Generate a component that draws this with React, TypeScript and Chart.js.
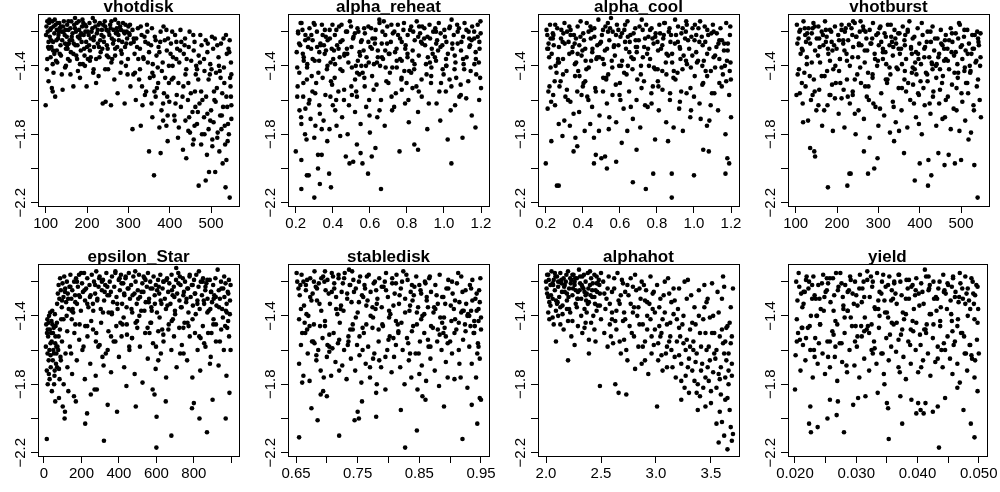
import React, { useEffect, useRef } from "react";
import { Chart, registerables } from "chart.js";
Chart.register(...registerables);

const FONT = '"Liberation Sans", Arial, Helvetica, sans-serif';

// shared y axis
const yTicks = [-2.2, -2.0, -1.8, -1.6, -1.4, -1.2];
const yTickLabels = ["\u22122.2", "", "\u22121.8", "", "\u22121.4", ""];
const yMin = -2.219;
const yMax = -1.097;

const titles = ["vhotdisk", "alpha_reheat", "alpha_cool", "vhotburst", "epsilon_Star", "stabledisk", "alphahot", "yield"];

const xMins = [81.5, 0.158, 0.158, 81.5, -32, 0.637, 1.927, 0.01886];
const xMaxs = [567.5, 1.243, 1.243, 567.5, 1041, 0.963, 3.755, 0.0513];

const xTicksAll = [
  [100, 200, 300, 400, 500],
  [0.2, 0.4, 0.6, 0.8, 1.0, 1.2],
  [0.2, 0.4, 0.6, 0.8, 1.0, 1.2],
  [100, 200, 300, 400, 500],
  [0, 200, 400, 600, 800, 1000],
  [0.65, 0.7, 0.75, 0.8, 0.85, 0.9, 0.95],
  [2.0, 2.5, 3.0, 3.5],
  [0.02, 0.025, 0.03, 0.035, 0.04, 0.045, 0.05],
];
const xLabelsAll = [
  ["100", "200", "300", "400", "500"],
  ["0.2", "0.4", "0.6", "0.8", "1.0", "1.2"],
  ["0.2", "0.4", "0.6", "0.8", "1.0", "1.2"],
  ["100", "200", "300", "400", "500"],
  ["0", "200", "400", "600", "800", ""],
  ["0.65", "", "0.75", "", "0.85", "", "0.95"],
  ["2.0", "2.5", "3.0", "3.5"],
  ["0.020", "", "0.030", "", "0.040", "", "0.050"],
];

const vhotdisk: [number, number][] = [
  [102,-1.17],[105,-1.2],[108,-1.15],[110,-1.23],[113,-1.18],[116,-1.14],[118,-1.26],[121,-1.21],[124,-1.16],[127,-1.19],[130,-1.24],[133,-1.15],[136,-1.28],[139,-1.2],[142,-1.17],[146,-1.22],[149,-1.3],[152,-1.16],[155,-1.19],[158,-1.25],[162,-1.14],[165,-1.21],[168,-1.27],[171,-1.18],[175,-1.15],[178,-1.23],[181,-1.19],[185,-1.31],[188,-1.17],[192,-1.22],[195,-1.16],[198,-1.26],[202,-1.2],[206,-1.15],[209,-1.24],[213,-1.18],[217,-1.29],[220,-1.17],[224,-1.21],[228,-1.16],[232,-1.25],[236,-1.19],[240,-1.23],[244,-1.17],[248,-1.28],[252,-1.2],[256,-1.16],[260,-1.24],[264,-1.19],[268,-1.3],[272,-1.18],[276,-1.22],[280,-1.17],[285,-1.26],[289,-1.2],[293,-1.16],[297,-1.24],
  [101,-1.22],[104,-1.14],[107,-1.26],[111,-1.19],[114,-1.29],[119,-1.17],[122,-1.13],[126,-1.25],[129,-1.15],[132,-1.2],[137,-1.17],[140,-1.25],[144,-1.14],[148,-1.19],[151,-1.23],[156,-1.27],[160,-1.18],[164,-1.25],[169,-1.16],[173,-1.2],[177,-1.28],[180,-1.14],[184,-1.22],[187,-1.26],[191,-1.15],[196,-1.2],[200,-1.29],[204,-1.22],[211,-1.2],[216,-1.25],[219,-1.14],[226,-1.27],[231,-1.15],[235,-1.22],[241,-1.26],[247,-1.19],[254,-1.22],[259,-1.14],[263,-1.27],[270,-1.21],[277,-1.25],[282,-1.19],[287,-1.15],[292,-1.29],[296,-1.2],[300,-1.17],
  [100,-1.63],[103,-1.42],[107,-1.49],[112,-1.35],[115,-1.53],[117,-1.55],[123,-1.58],[128,-1.38],[134,-1.33],[141,-1.54],[147,-1.41],[154,-1.36],[160,-1.45],[167,-1.52],[174,-1.34],[183,-1.47],[190,-1.39],[199,-1.52],[207,-1.37],[215,-1.44],[222,-1.5],[230,-1.35],[238,-1.62],[245,-1.61],[251,-1.42],[258,-1.63],[266,-1.48],[274,-1.56],[283,-1.38],[291,-1.62],[298,-1.45],
  [302,-1.21],[306,-1.27],[310,-1.19],[315,-1.33],[319,-1.24],[323,-1.18],[328,-1.3],[332,-1.22],[337,-1.36],[341,-1.26],[346,-1.2],[350,-1.32],[355,-1.28],[359,-1.39],[364,-1.23],[368,-1.34],[373,-1.29],[378,-1.2],[383,-1.38],[388,-1.25],[393,-1.31],[398,-1.4],[403,-1.27],[408,-1.35],[413,-1.22],[418,-1.3],[423,-1.38],[428,-1.26],[434,-1.33],[440,-1.42],[446,-1.29],[452,-1.37],[458,-1.31],[464,-1.4],[470,-1.34],[477,-1.28],[484,-1.43],[491,-1.32],[498,-1.39],[505,-1.3],[512,-1.44],[518,-1.35],[524,-1.27],[531,-1.41],[538,-1.33],[545,-1.25],[548,-1.38],
  [304,-1.16],[313,-1.24],[321,-1.29],[330,-1.17],[339,-1.23],[348,-1.27],[357,-1.18],[366,-1.25],[375,-1.32],[385,-1.17],[396,-1.24],[406,-1.2],[416,-1.26],[426,-1.19],[437,-1.24],[448,-1.2],[460,-1.26],[474,-1.22],[487,-1.25],[502,-1.23],[515,-1.28],[530,-1.24],[542,-1.3],
  [305,-1.52],[312,-1.45],[318,-1.6],[326,-1.48],[334,-1.63],[343,-1.55],[352,-1.47],[358,-1.7],[366,-1.58],[372,-1.5],[380,-1.66],[386,-1.56],[392,-1.75],[399,-1.61],[405,-1.48],[411,-1.69],[417,-1.57],[422,-1.76],[427,-1.64],[433,-1.52],[438,-1.72],[444,-1.6],[449,-1.79],[455,-1.67],[461,-1.55],[466,-1.74],[472,-1.62],[478,-1.8],[483,-1.7],[488,-1.58],[494,-1.77],[500,-1.66],[506,-1.73],[511,-1.61],[516,-1.79],[522,-1.69],[527,-1.56],[533,-1.75],[539,-1.64],[543,-1.8],[547,-1.52],[549,-1.71],
  [310,-1.77],[350,-1.9],[362,-2.04],[378,-1.91],[395,-1.84],[432,-1.89],[440,-1.94],[458,-1.83],[470,-2.1],[476,-1.86],[487,-2.07],[490,-1.92],[495,-2.02],[503,-1.87],[510,-2.02],[520,-1.9],[528,-1.97],[535,-2.11],[540,-1.84],[545,-2.17],[537,-1.95],[515,-1.82],
];
const vhotdiskMore: [number, number][] = [
  [118,-1.31],[243,-1.14],[167,-1.33],[295,-1.27],[131,-1.22],[209,-1.35],[276,-1.15],[152,-1.28],[189,-1.13],[233,-1.32],[106,-1.29],[261,-1.36],[143,-1.2],[198,-1.17],[284,-1.33],[125,-1.37],[217,-1.23],[171,-1.12],[250,-1.3],[137,-1.34],[303,-1.22],[182,-1.24],[226,-1.19],[113,-1.25],[268,-1.13],[158,-1.37],[205,-1.28],[291,-1.21],[147,-1.27],[239,-1.16],[121,-1.33],[193,-1.3],[257,-1.18],[176,-1.36],[313,-1.26],[109,-1.13],[229,-1.29],[163,-1.23],[282,-1.31],[134,-1.18],[214,-1.12],[248,-1.34],[186,-1.21],[299,-1.36],[155,-1.14],[273,-1.2],[117,-1.39],[222,-1.36],[265,-1.25],[195,-1.4],
  [328,-1.42],[345,-1.16],[361,-1.46],[377,-1.26],[392,-1.19],[409,-1.47],[425,-1.31],[441,-1.36],[457,-1.22],[469,-1.48],[483,-1.36],[497,-1.45],[509,-1.24],[523,-1.47],[536,-1.22],[549,-1.45],[336,-1.35],[371,-1.41],[402,-1.33],[436,-1.28],[463,-1.45],[492,-1.27],[519,-1.4],[544,-1.32],
  [356,-1.62],[369,-1.53],[384,-1.72],[398,-1.5],[414,-1.62],[431,-1.58],[447,-1.7],[462,-1.64],[476,-1.55],[491,-1.68],[503,-1.83],[514,-1.53],[529,-1.64],[541,-1.74],[548,-1.58],[420,-1.82],[456,-1.86],[484,-1.8],[508,-1.6],[534,-1.86],[375,-1.76],[395,-1.69],[340,-1.57],[330,-1.75],[460,-1.75],[525,-1.77],
];
const vhotdiskMid: [number, number][] = [
  [104,-1.36],[127,-1.31],[149,-1.4],[172,-1.28],[194,-1.34],[216,-1.42],[237,-1.3],[259,-1.38],[281,-1.44],[108,-1.3],[139,-1.45],[161,-1.32],[183,-1.39],[207,-1.31],[228,-1.46],[252,-1.35],[273,-1.29],[294,-1.4],[119,-1.44],[153,-1.3],[178,-1.43],[202,-1.36],[244,-1.42],[268,-1.34],
  [316,-1.44],[333,-1.52],[347,-1.38],[363,-1.55],[381,-1.43],[394,-1.58],[407,-1.4],[421,-1.5],[438,-1.45],[451,-1.56],[466,-1.42],[479,-1.6],[494,-1.48],[507,-1.55],[521,-1.43],[537,-1.58],[546,-1.47],[324,-1.36],[358,-1.44],[389,-1.47],[416,-1.36],[445,-1.5],[473,-1.38],[501,-1.42],[532,-1.5],[549,-1.63],[412,-1.72],[468,-1.67],[498,-1.72],[526,-1.69],[445,-1.78],[384,-1.62],
];

const alphaReheat: [number, number][] = [
  [0.212,-1.2],[0.224,-1.28],[0.231,-1.15],[0.243,-1.35],[0.252,-1.22],[0.261,-1.41],[0.274,-1.18],[0.283,-1.3],[0.291,-1.25],[0.302,-1.37],[0.314,-1.2],[0.322,-1.44],[0.333,-1.27],[0.341,-1.16],[0.356,-1.33],[0.362,-1.23],[0.371,-1.4],[0.383,-1.19],[0.394,-1.3],[0.402,-1.36],[0.411,-1.22],[0.423,-1.28],[0.434,-1.17],[0.441,-1.42],[0.452,-1.25],[0.463,-1.33],[0.471,-1.2],[0.484,-1.38],[0.492,-1.14],[0.501,-1.29],[0.512,-1.23],[0.524,-1.4],[0.533,-1.18],[0.544,-1.32],[0.552,-1.26],[0.561,-1.44],[0.573,-1.21],[0.582,-1.35],[0.592,-1.17],[0.603,-1.29],[0.614,-1.24],[0.622,-1.39],[0.631,-1.19],[0.643,-1.31],[0.652,-1.15],[0.664,-1.27],[0.671,-1.36],[0.683,-1.22],[0.694,-1.17],[0.702,-1.33],[0.713,-1.26],[0.721,-1.41],[0.732,-1.2],[0.744,-1.3],[0.751,-1.16],[0.763,-1.24],[0.772,-1.37],[0.781,-1.19],[0.793,-1.28],[0.804,-1.22],[0.812,-1.43],[0.823,-1.17],[0.831,-1.31],[0.842,-1.25],[0.853,-1.14],[0.864,-1.34],[0.871,-1.21],[0.882,-1.27],[0.894,-1.18],[0.903,-1.39],[0.911,-1.23],[0.922,-1.16],[0.934,-1.3],[0.942,-1.2],[0.951,-1.35],[0.963,-1.25],[0.972,-1.15],[0.981,-1.29],[0.993,-1.42],[1.002,-1.19],[1.013,-1.26],[1.021,-1.33],[1.032,-1.17],[1.041,-1.13],[1.053,-1.22],[1.062,-1.38],[1.074,-1.27],[1.081,-1.18],[1.092,-1.31],[1.103,-1.23],[1.111,-1.15],[1.122,-1.35],[1.133,-1.2],[1.141,-1.28],[1.152,-1.17],[1.163,-1.24],[1.171,-1.32],[1.182,-1.16],[1.191,-1.26],[1.198,-1.21],
  [0.205,-1.32],[0.236,-1.19],[0.268,-1.24],[0.297,-1.15],[0.326,-1.37],[0.352,-1.28],[0.384,-1.24],[0.412,-1.39],[0.447,-1.16],[0.476,-1.3],[0.503,-1.41],[0.538,-1.2],[0.566,-1.31],[0.594,-1.38],[0.627,-1.27],[0.655,-1.4],[0.683,-1.31],[0.716,-1.16],[0.745,-1.37],[0.772,-1.26],[0.803,-1.33],[0.834,-1.2],[0.866,-1.17],[0.893,-1.24],[0.924,-1.38],[0.953,-1.18],[0.982,-1.21],[1.013,-1.4],[1.045,-1.3],[1.074,-1.2],[1.103,-1.36],[1.136,-1.24],[1.164,-1.39],[1.192,-1.3],
  [0.21,-1.52],[0.22,-1.66],[0.23,-1.74],[0.24,-1.58],[0.25,-1.8],[0.26,-1.48],[0.27,-1.62],[0.28,-1.71],[0.29,-1.55],[0.3,-1.82],[0.31,-1.5],[0.33,-1.68],[0.34,-1.77],[0.36,-1.57],[0.37,-1.84],[0.39,-1.49],[0.4,-1.63],[0.42,-1.75],[0.43,-1.55],[0.45,-1.7],[0.46,-1.6],[0.48,-1.8],[0.5,-1.52],[0.52,-1.67],[0.53,-1.58],[0.55,-1.74],[0.57,-1.47],[0.58,-1.64],[0.6,-1.79],[0.62,-1.54],[0.64,-1.7],[0.66,-1.6],[0.68,-1.75],[0.7,-1.5],[0.72,-1.66],[0.74,-1.56],[0.77,-1.48],[0.79,-1.62],[0.81,-1.73],[0.83,-1.53],[0.86,-1.67],[0.88,-1.58],[0.91,-1.77],[0.93,-1.5],[0.96,-1.62],[0.98,-1.72],[1.01,-1.55],[1.03,-1.48],[1.06,-1.63],[1.09,-1.51],[1.12,-1.59],[1.15,-1.69],[1.17,-1.76],[1.19,-1.6],[1.2,-1.53],[0.41,-1.47],
  [0.23,-2.12],[0.26,-2.04],[0.27,-2.04],[0.3,-2.17],[0.32,-2.0],[0.33,-2.09],[0.38,-2.03],[0.39,-2.11],[0.59,-2.03],[0.66,-2.12],[1.04,-1.97],[0.2,-1.9],[0.23,-1.95],[0.32,-1.92],[0.34,-1.92],[0.47,-1.93],[0.49,-1.97],[0.51,-1.96],[0.53,-1.86],[0.55,-1.91],[0.56,-1.97],[0.61,-1.93],[0.63,-1.88],[0.76,-1.9],[0.84,-1.86],[0.86,-1.89],[1.02,-1.83],[1.1,-1.82],
];
const alphaReheatMore: [number, number][] = [
  [0.213,-1.21],[0.547,-1.34],[0.882,-1.17],[0.334,-1.28],[1.106,-1.39],[0.675,-1.14],[0.251,-1.25],[0.968,-1.31],[0.419,-1.19],[0.763,-1.36],[1.182,-1.23],[0.302,-1.16],[0.611,-1.3],[0.839,-1.42],[0.477,-1.2],[1.045,-1.27],[0.226,-1.15],[0.706,-1.33],[0.925,-1.24],[0.388,-1.38],[0.569,-1.18],[1.137,-1.29],[0.284,-1.22],[0.803,-1.35],[0.651,-1.13],[0.441,-1.26],[1.012,-1.4],[0.357,-1.19],[0.736,-1.32],[0.519,-1.21],[0.898,-1.28],[0.243,-1.37],[1.071,-1.16],[0.628,-1.24],[0.462,-1.34],[0.957,-1.2],[0.315,-1.29],[0.784,-1.15],[1.163,-1.2],[0.592,-1.26],[0.406,-1.31],[0.861,-1.23],[0.208,-1.41],[0.693,-1.27],[1.029,-1.18],[0.535,-1.37],[0.372,-1.25],[0.817,-1.19],[0.939,-1.33],[0.266,-1.29],[0.724,-1.21],[1.094,-1.26],[0.498,-1.17],[0.643,-1.35],[0.345,-1.22],[0.991,-1.28],[0.579,-1.4],[1.197,-1.14],[0.431,-1.3],[0.752,-1.22],[0.291,-1.36],[0.876,-1.26],[0.607,-1.18],[1.058,-1.34],[0.218,-1.27],[0.509,-1.24],[0.829,-1.37],[0.398,-1.16],[0.958,-1.27],[0.685,-1.41],[1.121,-1.19],[0.327,-1.32],[0.556,-1.25],[0.791,-1.3],[0.452,-1.43],[1.005,-1.23],[0.238,-1.33],[0.668,-1.2],[0.913,-1.35],[0.363,-1.31],[1.149,-1.25],
  [0.526,-1.55],[0.771,-1.47],[0.274,-1.6],[0.851,-1.52],[0.598,-1.69],[1.083,-1.58],[0.413,-1.66],[0.717,-1.58],[0.984,-1.5],[0.306,-1.75],[0.543,-1.45],[1.174,-1.45],[0.636,-1.51],[0.229,-1.7],[0.808,-1.6],[0.487,-1.63],[0.931,-1.46],[0.382,-1.77],[1.036,-1.66],[0.258,-1.83],[0.35,-1.72],[0.44,-1.81],
];
const alphaReheatMid: [number, number][] = [
  [0.219,-1.44],[0.345,-1.47],[0.478,-1.33],[0.612,-1.46],[0.745,-1.41],[0.879,-1.48],[1.011,-1.36],[1.144,-1.43],[0.262,-1.39],[0.396,-1.51],[0.531,-1.44],[0.665,-1.35],[0.798,-1.5],[0.932,-1.41],[1.066,-1.47],[1.188,-1.38],[0.305,-1.56],[0.437,-1.35],[0.572,-1.52],[0.708,-1.44],[0.841,-1.39],[0.975,-1.55],[1.109,-1.42],[0.241,-1.5],[0.368,-1.42],[0.503,-1.57],[0.638,-1.38],[0.772,-1.54],[0.906,-1.45],[1.04,-1.52],[1.172,-1.36],[0.286,-1.46],[0.418,-1.6],[0.554,-1.4],[0.689,-1.49],[0.823,-1.44],[0.957,-1.37],[1.091,-1.57],[0.208,-1.58],[0.327,-1.63],[0.461,-1.54],[0.596,-1.6],[0.731,-1.64],[0.864,-1.55],[0.998,-1.45],[1.131,-1.49],[0.252,-1.65],[0.387,-1.58],[0.52,-1.48],[0.652,-1.66],[0.786,-1.43],[0.918,-1.62],[1.057,-1.42],[1.195,-1.47],
];

const alphaCool: [number, number][] = [
  [0.204,-1.19],[0.215,-1.27],[0.223,-1.16],[0.232,-1.33],[0.241,-1.22],[0.253,-1.4],[0.262,-1.18],[0.271,-1.29],[0.282,-1.24],[0.293,-1.36],[0.301,-1.15],[0.312,-1.43],[0.323,-1.26],[0.334,-1.19],[0.343,-1.32],[0.352,-1.22],[0.364,-1.38],[0.372,-1.17],[0.381,-1.28],[0.393,-1.34],[0.402,-1.21],[0.413,-1.3],[0.421,-1.15],[0.432,-1.41],[0.443,-1.24],[0.451,-1.32],[0.462,-1.18],[0.473,-1.36],[0.484,-1.13],[0.492,-1.27],[0.503,-1.22],[0.514,-1.39],[0.522,-1.17],[0.531,-1.3],[0.543,-1.25],[0.552,-1.12],[0.561,-1.2],[0.573,-1.34],[0.584,-1.16],[0.592,-1.28],[0.603,-1.23],[0.612,-1.37],[0.624,-1.19],[0.633,-1.3],[0.641,-1.14],[0.653,-1.26],[0.662,-1.35],[0.674,-1.21],[0.683,-1.18],[0.691,-1.32],[0.702,-1.25],[0.714,-1.4],[0.723,-1.19],[0.731,-1.29],[0.742,-1.16],[0.754,-1.23],[0.763,-1.36],[0.771,-1.18],[0.782,-1.27],[0.793,-1.21],[0.804,-1.42],[0.813,-1.16],[0.822,-1.3],[0.834,-1.24],[0.843,-1.15],[0.852,-1.33],[0.864,-1.2],[0.873,-1.26],[0.882,-1.38],[0.891,-1.43],[0.903,-1.22],[0.914,-1.17],[0.923,-1.29],[0.932,-1.21],[0.944,-1.34],[0.952,-1.24],[0.961,-1.16],[0.974,-1.3],[0.983,-1.41],[0.992,-1.18],[1.003,-1.25],[1.012,-1.32],[1.024,-1.18],[1.033,-1.14],[1.042,-1.23],[1.053,-1.37],[1.061,-1.26],[1.072,-1.19],[1.083,-1.3],[1.091,-1.43],[1.102,-1.16],[1.114,-1.34],[1.123,-1.21],[1.132,-1.27],[1.143,-1.18],[1.151,-1.25],[1.162,-1.31],[1.174,-1.15],[1.183,-1.27],[1.194,-1.22],
  [0.208,-1.3],[0.238,-1.24],[0.266,-1.36],[0.295,-1.21],[0.327,-1.33],[0.356,-1.27],[0.387,-1.23],[0.415,-1.37],[0.446,-1.19],[0.478,-1.28],[0.507,-1.36],[0.536,-1.2],[0.567,-1.29],[0.596,-1.4],[0.628,-1.26],[0.657,-1.22],[0.686,-1.29],[0.718,-1.13],[0.747,-1.33],[0.776,-1.24],[0.806,-1.31],[0.837,-1.22],[0.868,-1.18],[0.897,-1.27],[0.927,-1.36],[0.956,-1.2],[0.986,-1.23],[1.016,-1.38],[1.047,-1.28],[1.077,-1.22],[1.106,-1.35],[1.137,-1.25],[1.167,-1.4],[1.196,-1.17],
  [0.21,-1.65],[0.22,-1.52],[0.24,-1.57],[0.25,-1.63],[0.27,-1.74],[0.28,-1.49],[0.29,-1.81],[0.3,-1.72],[0.32,-1.6],[0.33,-1.75],[0.35,-1.68],[0.36,-1.82],[0.37,-1.55],[0.38,-1.67],[0.4,-1.52],[0.41,-1.78],[0.43,-1.6],[0.44,-1.74],[0.46,-1.82],[0.47,-1.55],[0.49,-1.69],[0.51,-1.47],[0.53,-1.62],[0.54,-1.77],[0.56,-1.57],[0.58,-1.73],[0.6,-1.5],[0.62,-1.65],[0.64,-1.78],[0.65,-1.55],[0.67,-1.71],[0.69,-1.6],[0.71,-1.76],[0.73,-1.49],[0.75,-1.64],[0.77,-1.56],[0.79,-1.83],[0.81,-1.66],[0.83,-1.54],[0.85,-1.73],[0.87,-1.6],[0.89,-1.76],[0.9,-1.48],[0.92,-1.65],[0.94,-1.78],[0.96,-1.56],[0.98,-1.7],[1.0,-1.58],[1.03,-1.62],[1.05,-1.5],[1.07,-1.75],[1.09,-1.63],[1.11,-1.56],[1.13,-1.66],[1.15,-1.52],[1.17,-1.8],[1.19,-1.57],[1.2,-1.7],
  [0.2,-1.97],[0.26,-2.1],[0.27,-2.1],[0.35,-1.9],[0.46,-1.97],[0.47,-1.92],[0.5,-1.94],[0.52,-1.93],[0.53,-2.0],[0.58,-1.96],[0.67,-2.08],[0.69,-1.89],[0.74,-2.12],[0.78,-2.03],[0.88,-2.03],[0.88,-2.17],[1.0,-2.04],[1.05,-1.89],[1.08,-1.9],[1.17,-2.03],[1.18,-1.94],[1.19,-1.97],[0.23,-1.84],[0.37,-1.87],[0.61,-1.85],[0.86,-1.84],
];
const alphaCoolMore: [number, number][] = [
  [0.213,-1.3],[0.547,-1.18],[0.882,-1.33],[0.334,-1.22],[1.106,-1.2],[0.675,-1.36],[0.251,-1.16],[0.968,-1.25],[0.419,-1.42],[0.763,-1.19],[1.182,-1.31],[0.302,-1.27],[0.611,-1.21],[0.839,-1.15],[0.477,-1.35],[1.045,-1.4],[0.226,-1.24],[0.706,-1.17],[0.925,-1.3],[0.388,-1.14],[0.569,-1.28],[1.137,-1.36],[0.284,-1.19],[0.803,-1.26],[0.651,-1.32],[0.441,-1.17],[1.012,-1.22],[0.357,-1.39],[0.736,-1.24],[0.519,-1.31],[0.898,-1.13],[0.243,-1.28],[1.071,-1.33],[0.628,-1.16],[0.462,-1.23],[0.957,-1.37],[0.315,-1.2],[0.784,-1.41],[1.163,-1.27],[0.592,-1.19],[0.406,-1.25],[0.861,-1.34],[0.208,-1.22],[0.693,-1.29],[1.029,-1.26],[0.535,-1.15],[0.372,-1.33],[0.817,-1.21],[0.939,-1.18],[0.266,-1.38],[0.724,-1.35],[1.094,-1.21],[0.498,-1.26],[0.643,-1.23],[0.345,-1.29],[0.991,-1.34],[0.579,-1.22],[1.197,-1.38],[0.431,-1.2],[0.752,-1.3],[0.291,-1.26],[0.876,-1.22],[0.607,-1.4],[1.058,-1.17],[0.218,-1.35],[0.509,-1.19],[0.829,-1.28],[0.398,-1.31],[0.958,-1.14],[0.685,-1.25],[1.121,-1.29],[0.327,-1.17],[0.556,-1.37],[0.791,-1.23],[0.452,-1.3],[1.005,-1.16],[0.238,-1.21],[0.668,-1.42],[0.913,-1.26],[0.363,-1.24],[1.149,-1.41],
  [0.526,-1.48],[0.771,-1.62],[0.274,-1.52],[0.851,-1.45],[0.598,-1.57],[1.083,-1.72],[0.413,-1.49],[0.717,-1.53],[0.984,-1.66],[0.306,-1.58],[0.543,-1.7],[1.174,-1.49],[0.636,-1.45],[0.229,-1.61],[0.808,-1.52],[0.487,-1.78],[0.931,-1.55],[0.382,-1.46],[1.036,-1.71],[0.45,-1.64],
];
const alphaCoolMid: [number, number][] = [
  [0.226,-1.41],[0.358,-1.46],[0.489,-1.35],[0.623,-1.44],[0.757,-1.4],[0.889,-1.47],[1.022,-1.37],[1.156,-1.45],[0.271,-1.38],[0.404,-1.5],[0.537,-1.45],[0.671,-1.36],[0.805,-1.49],[0.938,-1.42],[1.071,-1.46],[1.193,-1.43],[0.314,-1.54],[0.445,-1.37],[0.578,-1.51],[0.713,-1.45],[0.848,-1.38],[0.981,-1.53],[1.114,-1.41],[0.248,-1.49],[0.375,-1.43],[0.509,-1.55],[0.643,-1.4],[0.778,-1.52],[0.911,-1.44],[1.045,-1.51],[1.178,-1.37],[0.293,-1.45],[0.424,-1.58],[0.559,-1.41],[0.694,-1.48],[0.829,-1.43],[0.962,-1.39],[1.097,-1.56],[0.214,-1.55],[0.333,-1.61],[0.467,-1.53],[0.603,-1.6],[0.736,-1.63],[0.871,-1.56],[1.004,-1.46],[1.137,-1.5],[0.258,-1.44],[0.393,-1.57],[0.526,-1.47],[0.659,-1.64],[0.791,-1.42],[0.924,-1.61],[1.063,-1.43],[1.199,-1.48],
];

const vhotburst: [number, number][] = [
  [103,-1.16],[107,-1.24],[111,-1.19],[115,-1.3],[119,-1.14],[123,-1.22],[127,-1.35],[131,-1.18],[135,-1.27],[139,-1.21],[143,-1.15],[147,-1.31],[151,-1.24],[155,-1.17],[159,-1.38],[163,-1.2],[167,-1.28],[171,-1.14],[175,-1.23],[179,-1.33],[183,-1.19],[187,-1.26],[191,-1.42],[195,-1.17],[199,-1.3],[203,-1.22],[207,-1.36],[211,-1.16],[215,-1.27],[219,-1.2],[223,-1.33],[227,-1.25],[231,-1.4],[235,-1.18],[239,-1.29],[243,-1.15],[247,-1.23],[251,-1.35],[255,-1.2],[259,-1.28],[263,-1.17],[267,-1.31],[271,-1.24],[275,-1.44],[279,-1.19],[283,-1.27],[287,-1.15],[291,-1.33],[295,-1.22],[299,-1.37],[303,-1.18],[307,-1.26],[311,-1.3],[315,-1.21],[319,-1.39],[323,-1.16],[327,-1.28],[331,-1.23],[335,-1.34],[339,-1.19],[343,-1.27],[347,-1.42],[351,-1.21],[355,-1.3],[359,-1.17],[363,-1.25],[367,-1.36],[371,-1.2],[375,-1.14],[379,-1.29],[383,-1.41],[387,-1.23],[391,-1.32],[395,-1.18],[399,-1.27],[403,-1.39],[407,-1.22],[411,-1.3],[415,-1.44],[419,-1.2],[423,-1.35],[427,-1.26],[431,-1.17],[435,-1.31],[439,-1.4],[443,-1.24],[447,-1.33],[451,-1.19],[455,-1.28],[459,-1.37],[463,-1.22],[467,-1.3],[471,-1.42],[475,-1.18],[479,-1.26],[483,-1.34],[487,-1.21],[491,-1.39],[495,-1.15],[499,-1.29],[503,-1.36],[507,-1.23],[511,-1.31],[515,-1.19],[519,-1.27],[523,-1.43],[527,-1.22],[531,-1.3],[535,-1.38],[539,-1.2],[543,-1.28],[547,-1.35],
  [109,-1.2],[125,-1.26],[141,-1.18],[157,-1.24],[173,-1.19],[189,-1.31],[205,-1.25],[221,-1.18],[237,-1.22],[253,-1.27],[269,-1.2],[285,-1.24],[301,-1.28],[317,-1.32],[333,-1.26],[349,-1.3],[365,-1.22],[381,-1.33],[397,-1.36],[413,-1.29],[429,-1.38],[445,-1.35],[461,-1.25],[477,-1.32],[493,-1.24],[509,-1.41],[525,-1.33],[541,-1.24],
  [105,-1.45],[110,-1.56],[117,-1.62],[124,-1.52],[130,-1.72],[137,-1.6],[144,-1.48],[150,-1.66],[157,-1.54],[164,-1.75],[170,-1.46],[177,-1.63],[184,-1.57],[190,-1.78],[197,-1.5],[204,-1.68],[211,-1.59],[218,-1.76],[224,-1.48],[231,-1.62],[238,-1.55],[245,-1.8],[252,-1.66],[258,-1.5],[265,-1.71],[272,-1.58],[279,-1.82],[286,-1.47],[293,-1.64],[300,-1.75],[307,-1.56],[314,-1.69],[321,-1.5],[328,-1.79],[335,-1.61],[342,-1.73],[349,-1.53],[356,-1.66],[363,-1.48],[370,-1.76],[377,-1.6],[384,-1.51],[391,-1.7],[398,-1.57],[405,-1.8],[412,-1.63],[419,-1.49],[426,-1.68],[433,-1.55],[440,-1.75],[447,-1.62],[454,-1.5],[461,-1.7],[468,-1.58],[475,-1.77],[482,-1.65],[489,-1.53],[496,-1.78],[503,-1.61],[510,-1.72],[517,-1.56],[524,-1.79],[531,-1.66],[538,-1.52],[545,-1.6],[548,-1.7],
  [178,-2.11],[225,-2.1],[230,-2.03],[233,-2.03],[275,-2.03],[290,-2.0],[388,-2.07],[420,-2.1],[428,-2.04],[540,-2.17],[147,-1.93],[135,-1.88],[145,-1.9],[400,-1.97],[421,-1.95],[460,-1.98],[485,-1.97],[500,-1.95],[532,-1.98],[445,-1.91],[470,-1.92],[265,-1.9],[298,-1.94],[338,-1.84],[362,-1.91],[518,-1.83],
];
const vhotburstMore: [number, number][] = [
  [112,-1.33],[348,-1.21],[497,-1.16],[196,-1.4],[452,-1.27],[264,-1.19],[131,-1.24],[411,-1.35],[239,-1.14],[379,-1.3],[533,-1.22],[183,-1.37],[305,-1.17],[471,-1.25],[218,-1.31],[426,-1.2],[122,-1.18],[357,-1.39],[502,-1.28],[246,-1.23],[330,-1.16],[516,-1.33],[173,-1.26],[388,-1.42],[299,-1.21],[211,-1.19],[468,-1.37],[158,-1.29],[341,-1.24],[237,-1.35],[405,-1.15],[128,-1.21],[487,-1.32],[281,-1.27],[205,-1.43],[437,-1.24],[146,-1.17],[364,-1.28],[542,-1.26],[267,-1.38],[186,-1.2],[392,-1.45],[104,-1.27],[311,-1.32],[459,-1.3],[229,-1.16],[327,-1.41],[417,-1.26],[154,-1.34],[508,-1.19],[273,-1.31],[371,-1.19],[193,-1.28],[449,-1.42],[318,-1.23],[139,-1.38],[528,-1.3],[257,-1.14],[396,-1.33],[478,-1.21],[166,-1.22],[292,-1.36],[440,-1.47],[215,-1.25],[352,-1.33],[521,-1.4],[117,-1.31],[253,-1.28],[383,-1.24],[493,-1.44],[178,-1.3],[336,-1.29],[430,-1.39],[547,-1.21],
  [208,-1.5],[367,-1.55],[463,-1.6],[141,-1.57],[288,-1.62],[409,-1.53],[512,-1.5],[243,-1.68],[322,-1.48],[455,-1.71],[169,-1.66],[386,-1.62],[530,-1.63],[276,-1.52],[432,-1.58],[118,-1.73],[350,-1.78],[489,-1.66],[226,-1.58],[398,-1.74],
];
const vhotburstMid: [number, number][] = [
  [108,-1.42],[163,-1.46],[224,-1.37],[286,-1.45],[344,-1.41],[402,-1.49],[463,-1.36],[522,-1.44],[127,-1.39],[188,-1.51],[249,-1.45],[311,-1.36],[372,-1.5],[431,-1.42],[492,-1.47],[546,-1.4],[146,-1.55],[207,-1.36],[268,-1.52],[329,-1.45],[389,-1.38],[449,-1.54],[508,-1.43],[115,-1.5],[176,-1.43],[238,-1.57],[297,-1.4],[357,-1.53],[418,-1.45],[478,-1.51],[537,-1.37],[134,-1.46],[195,-1.59],[256,-1.41],[318,-1.48],[381,-1.44],[441,-1.39],[501,-1.56],[102,-1.57],[155,-1.63],[216,-1.54],[277,-1.6],[337,-1.64],[396,-1.56],[456,-1.46],[515,-1.5],[121,-1.44],[182,-1.57],[243,-1.48],[304,-1.65],[364,-1.43],[424,-1.62],[484,-1.44],[541,-1.48],
];

const epsilonStar: [number, number][] = [
  [12,-1.45],[18,-1.42],[22,-1.52],[27,-1.4],[31,-1.48],[35,-1.56],[40,-1.43],[44,-1.37],[48,-1.5],[53,-1.62],[58,-1.39],[62,-1.46],[66,-1.58],[70,-1.33],[74,-1.27],[78,-1.22],[82,-1.3],[86,-1.18],[90,-1.25],[95,-1.35],[99,-1.21],[104,-1.29],[108,-1.17],[113,-1.24],[118,-1.32],[122,-1.2],[127,-1.27],[132,-1.36],[136,-1.23],[141,-1.16],[146,-1.3],[151,-1.25],[156,-1.38],[161,-1.2],[166,-1.28],[171,-1.18],[176,-1.33],[181,-1.23],[187,-1.16],[192,-1.29],[197,-1.37],[203,-1.21],[208,-1.26],[214,-1.15],[219,-1.31],[225,-1.24],[231,-1.18],[237,-1.35],[243,-1.22],[249,-1.28],[255,-1.16],[261,-1.33],[267,-1.2],[273,-1.27],[279,-1.14],[285,-1.3],[291,-1.23],[297,-1.17],[303,-1.36],[309,-1.25],[315,-1.19],[321,-1.31],[327,-1.22],[333,-1.15],[339,-1.28],[345,-1.38],[351,-1.2],[357,-1.26],[363,-1.17],[369,-1.32],[375,-1.23],[381,-1.14],[387,-1.29],[393,-1.36],[399,-1.19],[405,-1.25],[411,-1.16],[417,-1.33],[423,-1.21],[429,-1.28],[435,-1.18],[441,-1.35],[447,-1.24],[453,-1.15],[459,-1.3],[465,-1.22],[471,-1.38],[477,-1.17],[483,-1.27],[489,-1.2],[495,-1.33],[501,-1.25],[507,-1.16],[513,-1.29],[519,-1.37],[525,-1.21],[531,-1.26],[537,-1.18],[543,-1.32],[549,-1.23],[555,-1.15],[561,-1.3],[567,-1.2],[573,-1.35],[579,-1.24],[585,-1.17],[591,-1.28],[597,-1.22],[603,-1.38],[609,-1.19],[615,-1.27],[621,-1.16],[627,-1.33],[633,-1.24],[639,-1.2],[645,-1.3],[651,-1.36],[657,-1.18],[663,-1.26],[669,-1.21],[675,-1.33],[681,-1.16],[687,-1.28],[693,-1.23],[699,-1.37],[705,-1.19],[711,-1.27],[717,-1.15],[723,-1.31],[729,-1.22],[735,-1.35],[741,-1.18],[747,-1.26],[753,-1.2],[759,-1.32],[765,-1.24],[771,-1.38],[777,-1.17],[783,-1.29],[789,-1.22],[795,-1.34],[801,-1.19],[807,-1.27],[813,-1.16],[819,-1.31],[825,-1.23],[831,-1.36],[837,-1.2],[843,-1.28],[849,-1.18],[855,-1.33],[861,-1.25],[867,-1.21],[873,-1.3],[879,-1.37],[885,-1.19],[891,-1.26],[897,-1.32],[903,-1.22],[909,-1.28],[915,-1.18],[921,-1.34],[927,-1.13],[933,-1.25],[939,-1.3],[945,-1.2],[951,-1.36],[957,-1.24],[963,-1.29],[969,-1.21],[975,-1.33],[981,-1.26],[987,-1.19],[993,-1.31],
  [15,-1.72],[20,-1.8],[25,-1.66],[30,-1.77],[36,-1.7],[42,-1.84],[50,-1.6],[56,-1.75],[64,-1.68],[72,-1.58],[80,-1.71],[88,-1.64],[96,-1.55],[105,-1.8],[115,-1.62],[125,-1.7],[138,-1.58],[150,-1.74],[162,-1.5],[175,-1.66],[190,-1.45],[205,-1.6],[218,-1.77],[232,-1.52],[247,-1.68],[262,-1.48],[276,-1.75],[290,-1.58],[305,-1.44],[318,-1.69],[330,-1.62],[344,-1.49],[358,-1.73],[372,-1.55],[386,-1.46],[400,-1.64],[414,-1.52],[428,-1.7],[442,-1.45],[456,-1.6],[470,-1.53],[484,-1.74],[498,-1.47],[512,-1.58],[526,-1.79],[540,-1.5],[554,-1.65],[568,-1.44],[582,-1.56],[596,-1.71],[610,-1.49],[624,-1.62],[638,-1.55],[652,-1.76],[666,-1.45],[680,-1.6],[694,-1.52],[708,-1.7],[722,-1.47],[736,-1.57],[750,-1.44],[764,-1.66],[778,-1.52],[792,-1.76],[806,-1.5],[820,-1.6],[834,-1.72],[848,-1.46],[862,-1.58],[876,-1.5],[890,-1.64],[904,-1.45],[918,-1.55],[932,-1.69],[946,-1.48],[960,-1.6],[974,-1.75],[988,-1.52],[996,-1.6],
  [15,-2.12],[110,-2.0],[220,-2.03],[320,-2.13],[600,-2.17],[601,-1.99],[680,-2.1],[830,-2.0],[870,-2.08],[970,-2.0],[230,-1.97],[390,-1.96],[100,-1.93],[112,-1.96],[490,-1.93],[60,-1.9],[80,-1.88],[160,-1.87],[170,-1.9],[340,-1.92],[800,-1.91],[790,-1.94],[900,-1.89],[990,-1.85],[130,-1.84],[250,-1.86],[270,-1.83],[282,-1.83],[580,-1.83],[590,-1.86],[440,-1.81],[650,-1.9],
];
const epsilonStarMore: [number, number][] = [
  [112,-1.26],[487,-1.14],[862,-1.23],[231,-1.33],[654,-1.19],[348,-1.28],[778,-1.16],[153,-1.36],[917,-1.29],[569,-1.24],[295,-1.18],[731,-1.35],[414,-1.21],[984,-1.27],[198,-1.15],[623,-1.31],[847,-1.2],[362,-1.38],[521,-1.26],[706,-1.12],[129,-1.3],[947,-1.24],[273,-1.22],[592,-1.33],[805,-1.27],[436,-1.17],[683,-1.25],[176,-1.2],[888,-1.36],[324,-1.26],[542,-1.19],[761,-1.3],[391,-1.33],[962,-1.17],[245,-1.29],[613,-1.23],[827,-1.14],[467,-1.36],[141,-1.23],[718,-1.21],[906,-1.3],[309,-1.2],[575,-1.37],[794,-1.22],[428,-1.27],[659,-1.34],[216,-1.25],[996,-1.22],[503,-1.3],[872,-1.19],[263,-1.37],[744,-1.28],[381,-1.15],[604,-1.25],[167,-1.32],[935,-1.35],[451,-1.24],[819,-1.33],[338,-1.23],[696,-1.29],[532,-1.17],[976,-1.38],[187,-1.28],[637,-1.2],[853,-1.31],[404,-1.18],[559,-1.32],[725,-1.17],[284,-1.31],[893,-1.26],[473,-1.28],[769,-1.24],[96,-1.31],[121,-1.4],[148,-1.42],
  [16,-1.5],[24,-1.44],[33,-1.38],[41,-1.55],[52,-1.47],[61,-1.52],[69,-1.44],[76,-1.6],[85,-1.48],[92,-1.42],[29,-1.6],[47,-1.66],[57,-1.72],[66,-1.62],[83,-1.77],[38,-1.5],[19,-1.62],[10,-1.58],
  [220,-1.46],[358,-1.52],[497,-1.43],[631,-1.48],[772,-1.46],[905,-1.42],[277,-1.55],[419,-1.45],[563,-1.5],[688,-1.42],[836,-1.53],[967,-1.46],[145,-1.62],[312,-1.64],[455,-1.58],[610,-1.66],[745,-1.62],[886,-1.68],
];
const epsilonStarMid: [number, number][] = [
  [104,-1.42],[231,-1.46],[362,-1.39],[489,-1.44],[617,-1.41],[744,-1.47],[872,-1.38],[983,-1.43],[147,-1.37],[279,-1.5],[408,-1.44],[536,-1.37],[664,-1.48],[793,-1.42],[918,-1.45],[992,-1.39],[188,-1.54],[315,-1.38],[443,-1.51],[572,-1.44],[700,-1.39],[829,-1.52],[955,-1.41],[124,-1.49],[252,-1.43],[381,-1.55],[509,-1.4],[637,-1.51],[766,-1.44],[894,-1.5],[971,-1.37],[167,-1.45],[297,-1.57],[425,-1.41],[553,-1.47],[682,-1.43],[810,-1.39],[939,-1.55],[211,-1.58],[340,-1.6],[470,-1.53],[598,-1.58],[727,-1.62],[855,-1.56],[978,-1.47],[60,-1.56],[45,-1.45],[78,-1.52],[90,-1.66],[20,-1.48],[35,-1.63],[26,-1.74],[54,-1.8],[70,-1.7],
];

const stabledisk: [number, number][] = [
  [0.652,-1.2],[0.656,-1.28],[0.659,-1.16],[0.663,-1.34],[0.666,-1.22],[0.67,-1.4],[0.673,-1.18],[0.677,-1.27],[0.68,-1.14],[0.684,-1.31],[0.687,-1.21],[0.691,-1.37],[0.694,-1.17],[0.698,-1.25],[0.701,-1.19],[0.705,-1.33],[0.708,-1.15],[0.712,-1.24],[0.715,-1.29],[0.719,-1.18],[0.722,-1.36],[0.726,-1.21],[0.729,-1.15],[0.733,-1.27],[0.736,-1.13],[0.74,-1.32],[0.743,-1.19],[0.747,-1.24],[0.75,-1.38],[0.754,-1.17],[0.757,-1.28],[0.761,-1.22],[0.764,-1.34],[0.768,-1.16],[0.771,-1.26],[0.775,-1.41],[0.778,-1.2],[0.782,-1.3],[0.785,-1.18],[0.789,-1.35],[0.792,-1.23],[0.796,-1.15],[0.799,-1.29],[0.803,-1.39],[0.806,-1.21],[0.81,-1.27],[0.813,-1.16],[0.817,-1.33],[0.82,-1.24],[0.824,-1.14],[0.827,-1.3],[0.831,-1.19],[0.834,-1.37],[0.838,-1.22],[0.841,-1.28],[0.845,-1.17],[0.848,-1.35],[0.852,-1.25],[0.855,-1.4],[0.859,-1.2],[0.862,-1.31],[0.866,-1.18],[0.869,-1.26],[0.873,-1.38],[0.876,-1.22],[0.88,-1.33],[0.883,-1.16],[0.887,-1.29],[0.89,-1.41],[0.894,-1.24],[0.897,-1.19],[0.901,-1.34],[0.904,-1.27],[0.908,-1.42],[0.911,-1.21],[0.915,-1.32],[0.918,-1.17],[0.922,-1.37],[0.925,-1.25],[0.929,-1.39],[0.932,-1.22],[0.936,-1.31],[0.939,-1.43],[0.943,-1.27],[0.946,-1.36],[0.949,-1.18],
  [0.654,-1.24],[0.668,-1.19],[0.682,-1.23],[0.696,-1.2],[0.71,-1.17],[0.724,-1.26],[0.738,-1.22],[0.752,-1.2],[0.766,-1.31],[0.78,-1.25],[0.794,-1.2],[0.808,-1.34],[0.822,-1.2],[0.836,-1.26],[0.85,-1.22],[0.864,-1.35],[0.878,-1.28],[0.892,-1.33],[0.906,-1.36],[0.92,-1.26],[0.934,-1.37],[0.948,-1.32],
  [0.655,-1.68],[0.658,-1.57],[0.662,-1.75],[0.665,-1.5],[0.669,-1.62],[0.672,-1.78],[0.676,-1.55],[0.679,-1.45],[0.683,-1.66],[0.686,-1.6],[0.69,-1.72],[0.693,-1.53],[0.697,-1.46],[0.7,-1.64],[0.704,-1.58],[0.707,-1.75],[0.711,-1.5],[0.714,-1.67],[0.718,-1.56],[0.721,-1.44],[0.725,-1.69],[0.728,-1.6],[0.732,-1.77],[0.735,-1.52],[0.739,-1.65],[0.742,-1.48],[0.746,-1.72],[0.749,-1.57],[0.753,-1.63],[0.756,-1.79],[0.76,-1.5],[0.763,-1.68],[0.767,-1.58],[0.77,-1.76],[0.774,-1.47],[0.777,-1.62],[0.781,-1.8],[0.784,-1.55],[0.788,-1.7],[0.791,-1.46],[0.795,-1.83],[0.798,-1.6],[0.802,-1.52],[0.805,-1.73],[0.809,-1.64],[0.812,-1.57],[0.816,-1.49],[0.819,-1.7],[0.823,-1.6],[0.826,-1.8],[0.83,-1.53],[0.833,-1.66],[0.837,-1.76],[0.84,-1.46],[0.844,-1.62],[0.847,-1.83],[0.851,-1.55],[0.854,-1.69],[0.858,-1.5],[0.861,-1.78],[0.865,-1.58],[0.868,-1.65],[0.872,-1.47],[0.875,-1.72],[0.879,-1.55],[0.882,-1.81],[0.886,-1.6],[0.889,-1.5],[0.893,-1.67],[0.896,-1.76],[0.9,-1.55],[0.903,-1.62],[0.907,-1.77],[0.91,-1.48],[0.914,-1.6],[0.917,-1.76],[0.921,-1.54],[0.924,-1.45],[0.928,-1.82],[0.931,-1.58],[0.935,-1.68],[0.938,-1.5],[0.942,-1.76],[0.945,-1.56],[0.948,-1.65],[0.95,-1.48],
  [0.655,-2.11],[0.72,-2.1],[0.675,-1.94],[0.685,-2.01],[0.745,-2.01],[0.752,-2.0],[0.75,-1.96],[0.78,-1.99],[0.82,-1.95],[0.827,-2.17],[0.846,-2.07],[0.92,-2.12],[0.944,-2.03],[0.7,-1.87],[0.69,-1.86],[0.694,-1.84],[0.757,-1.9],[0.855,-1.87],[0.86,-1.89],[0.89,-1.93],[0.935,-1.92],[0.948,-1.88],[0.95,-1.89],[0.66,-1.79],[0.78,-1.85],
];
const stablediskMore: [number, number][] = [
  [0.662,-1.2],[0.781,-1.33],[0.913,-1.15],[0.703,-1.27],[0.846,-1.38],[0.728,-1.18],[0.934,-1.24],[0.675,-1.31],[0.812,-1.21],[0.889,-1.29],[0.741,-1.14],[0.658,-1.36],[0.867,-1.17],[0.796,-1.25],[0.717,-1.39],[0.941,-1.3],[0.684,-1.24],[0.829,-1.16],[0.759,-1.29],[0.903,-1.2],[0.691,-1.18],[0.853,-1.27],[0.774,-1.35],[0.926,-1.33],[0.737,-1.22],[0.651,-1.15],[0.884,-1.41],[0.806,-1.18],[0.708,-1.26],[0.947,-1.25],[0.673,-1.29],[0.839,-1.31],[0.765,-1.17],[0.918,-1.38],[0.723,-1.34],[0.86,-1.21],[0.789,-1.23],[0.697,-1.14],[0.874,-1.35],[0.752,-1.32],[0.936,-1.19],[0.666,-1.25],[0.818,-1.28],[0.744,-1.26],[0.897,-1.24],[0.712,-1.21],[0.842,-1.23],[0.679,-1.2],[0.931,-1.4],[0.801,-1.37],[0.733,-1.3],[0.862,-1.29],[0.688,-1.33],[0.908,-1.31],[0.776,-1.21],[0.657,-1.22],[0.835,-1.34],[0.719,-1.16],[0.943,-1.37],[0.762,-1.24],
  [0.668,-1.48],[0.735,-1.55],[0.815,-1.45],[0.893,-1.52],[0.704,-1.61],[0.785,-1.66],[0.868,-1.58],[0.94,-1.46],[0.68,-1.56],[0.758,-1.47],[0.835,-1.62],[0.915,-1.68],[0.72,-1.72],[0.8,-1.54],[0.88,-1.48],[0.946,-1.58],[0.695,-1.76],[0.77,-1.7],[0.85,-1.74],[0.925,-1.49],
];
const stablediskMid: [number, number][] = [
  [0.655,-1.42],[0.689,-1.46],[0.727,-1.37],[0.764,-1.45],[0.801,-1.41],[0.838,-1.49],[0.876,-1.36],[0.914,-1.44],[0.667,-1.39],[0.704,-1.51],[0.742,-1.45],[0.779,-1.36],[0.816,-1.5],[0.853,-1.42],[0.891,-1.47],[0.928,-1.4],[0.946,-1.43],[0.678,-1.55],[0.715,-1.36],[0.753,-1.52],[0.79,-1.45],[0.827,-1.38],[0.864,-1.54],[0.902,-1.43],[0.939,-1.5],[0.66,-1.5],[0.697,-1.43],[0.734,-1.57],[0.771,-1.4],[0.808,-1.53],[0.846,-1.45],[0.883,-1.51],[0.92,-1.37],[0.672,-1.46],[0.709,-1.59],[0.747,-1.41],[0.784,-1.48],[0.821,-1.44],[0.858,-1.39],[0.896,-1.56],[0.933,-1.46],[0.683,-1.63],[0.72,-1.54],[0.758,-1.6],[0.795,-1.64],[0.832,-1.56],[0.869,-1.46],[0.907,-1.5],[0.944,-1.62],[0.664,-1.44],[0.701,-1.57],[0.738,-1.48],[0.775,-1.65],[0.812,-1.43],[0.849,-1.62],[0.887,-1.44],[0.95,-1.41],
];

const alphahot: [number, number][] = [
  [2.0,-1.2],[2.01,-1.27],[2.02,-1.16],[2.03,-1.32],[2.04,-1.22],[2.05,-1.14],[2.06,-1.3],[2.07,-1.19],[2.08,-1.25],[2.09,-1.37],[2.1,-1.17],[2.11,-1.23],[2.12,-1.29],[2.13,-1.15],[2.14,-1.21],[2.15,-1.34],[2.16,-1.18],[2.17,-1.26],[2.18,-1.2],[2.19,-1.31],[2.2,-1.14],[2.21,-1.24],[2.22,-1.38],[2.23,-1.19],[2.24,-1.28],[2.25,-1.16],[2.26,-1.22],[2.27,-1.33],[2.28,-1.18],[2.29,-1.26],[2.3,-1.13],[2.31,-1.21],[2.32,-1.3],[2.33,-1.17],[2.34,-1.24],[2.35,-1.36],[2.36,-1.2],[2.37,-1.27],[2.38,-1.15],[2.39,-1.32],[2.4,-1.22],[2.41,-1.18],[2.42,-1.29],[2.43,-1.4],[2.44,-1.16],[2.45,-1.25],[2.46,-1.21],[2.47,-1.34],[2.48,-1.19],[2.49,-1.27],[2.5,-1.15],
  [2.005,-1.24],[2.025,-1.19],[2.045,-1.28],[2.065,-1.22],[2.085,-1.17],[2.105,-1.32],[2.125,-1.2],[2.145,-1.26],[2.165,-1.23],[2.185,-1.16],[2.205,-1.29],[2.225,-1.21],[2.245,-1.24],[2.265,-1.18],[2.285,-1.3],[2.305,-1.25],[2.325,-1.22],[2.345,-1.16],[2.365,-1.31],[2.385,-1.24],[2.405,-1.28],[2.425,-1.21],[2.445,-1.33],[2.465,-1.26],[2.485,-1.22],
  [2.03,-1.42],[2.07,-1.45],[2.11,-1.4],[2.16,-1.48],[2.2,-1.43],[2.23,-1.52],[2.29,-1.46],[2.33,-1.5],[2.36,-1.44],[2.39,-1.54],[2.44,-1.48],[2.2,-1.66],[2.39,-1.62],[2.49,-1.81],[2.63,-1.8],[2.66,-1.85],[2.73,-1.86],[2.09,-1.55],[2.26,-1.57],[2.45,-1.55],
  [2.52,-1.2],[2.55,-1.3],[2.57,-1.17],[2.6,-1.38],[2.62,-1.24],[2.65,-1.15],[2.67,-1.33],[2.7,-1.21],[2.72,-1.42],[2.75,-1.28],[2.77,-1.18],[2.8,-1.35],[2.82,-1.25],[2.85,-1.45],[2.87,-1.2],[2.9,-1.31],[2.92,-1.4],[2.95,-1.17],[2.97,-1.27],[2.99,-1.48],[2.53,-1.5],[2.58,-1.45],[2.61,-1.56],[2.64,-1.48],[2.68,-1.62],[2.71,-1.54],[2.74,-1.66],[2.78,-1.5],[2.81,-1.71],[2.84,-1.58],[2.87,-1.68],[2.9,-1.55],[2.93,-1.74],[2.96,-1.62],[2.98,-1.57],[2.56,-1.24],[2.69,-1.19],[2.79,-1.23],[2.89,-1.22],[2.94,-1.33],
  [3.01,-1.22],[3.03,-1.35],[3.05,-1.5],[3.07,-1.28],[3.09,-1.62],[3.11,-1.18],[3.13,-1.44],[3.15,-1.7],[3.17,-1.31],[3.19,-1.55],[3.21,-1.24],[3.23,-1.78],[3.25,-1.4],[3.27,-1.6],[3.29,-1.19],[3.31,-1.48],[3.33,-1.72],[3.35,-1.35],[3.37,-1.85],[3.39,-1.25],[3.41,-1.58],[3.43,-1.42],[3.45,-1.76],[3.47,-1.3],[3.49,-1.66],[3.51,-1.21],[3.53,-1.5],[3.55,-1.82],[3.57,-1.38],[3.59,-1.7],[3.61,-1.17],[3.63,-1.55],[3.65,-1.88],[3.67,-1.44],[3.69,-1.75],[3.7,-1.24],
  [3.02,-1.56],[3.06,-1.72],[3.1,-1.45],[3.14,-1.6],[3.18,-1.76],[3.22,-1.52],[3.26,-1.82],[3.3,-1.65],[3.34,-1.55],[3.38,-1.8],[3.42,-1.68],[3.46,-1.6],[3.5,-1.84],[3.54,-1.65],[3.58,-1.77],[3.62,-1.62],[3.66,-1.8],[3.68,-1.56],[3.04,-1.3],[3.12,-1.27],[3.2,-1.36],[3.28,-1.3],[3.36,-1.45],[3.44,-1.35],[3.52,-1.4],[3.6,-1.3],[3.64,-1.47],
  [3.57,-2.14],[3.65,-2.18],[3.62,-2.1],[3.68,-2.05],[3.7,-2.09],[3.69,-2.13],[3.55,-2.03],[3.6,-2.02],[3.01,-1.93],[3.23,-1.89],[3.38,-1.95],[3.45,-1.93],[3.5,-1.91],[3.58,-1.96],[3.63,-1.89],[3.67,-1.95],[3.4,-1.87],[3.3,-1.85],
];
const alphahotMore: [number, number][] = [
  [2.02,-1.29],[2.14,-1.19],[2.27,-1.25],[2.38,-1.33],[2.08,-1.15],[2.21,-1.36],[2.33,-1.23],[2.46,-1.17],[2.04,-1.34],[2.17,-1.22],[2.29,-1.3],[2.42,-1.25],[2.11,-1.2],[2.24,-1.16],[2.36,-1.28],[2.49,-1.34],[2.06,-1.21],[2.19,-1.27],[2.31,-1.17],[2.44,-1.29],[2.13,-1.35],[2.26,-1.2],[2.4,-1.14],[2.53,-1.27],[2.01,-1.16],[2.09,-1.31],[2.22,-1.18],[2.35,-1.26],[2.47,-1.21],[2.58,-1.33],[2.62,-1.18],[2.68,-1.28],[2.74,-1.22],[2.81,-1.16],[2.86,-1.3],[2.91,-1.25],[2.97,-1.36],[2.64,-1.37],[2.7,-1.43],[2.77,-1.33],[2.83,-1.4],[2.88,-1.45],[2.95,-1.42],[2.6,-1.26],[2.66,-1.31],[2.72,-1.26],[2.79,-1.38],[2.85,-1.24],[2.92,-1.32],[2.98,-1.26],
  [3.03,-1.46],[3.08,-1.38],[3.12,-1.55],[3.16,-1.24],[3.21,-1.63],[3.24,-1.45],[3.28,-1.54],[3.32,-1.28],[3.36,-1.67],[3.4,-1.5],[3.44,-1.22],[3.48,-1.58],[3.52,-1.73],[3.56,-1.26],[3.6,-1.48],[3.64,-1.66],[3.68,-1.35],[3.05,-1.63],[3.1,-1.7],[3.14,-1.32],[3.19,-1.42],[3.23,-1.68],[3.27,-1.75],[3.31,-1.58],[3.35,-1.78],[3.39,-1.4],[3.43,-1.82],[3.47,-1.7],[3.51,-1.5],[3.55,-1.6],[3.59,-1.86],[3.63,-1.76],[3.66,-1.62],[3.69,-1.52],[3.26,-1.2],[3.46,-1.32],[3.62,-1.23],[3.08,-1.2],
];
const alphahotMid: [number, number][] = [
  [2.02,-1.38],[2.06,-1.41],[2.1,-1.33],[2.15,-1.39],[2.19,-1.36],[2.24,-1.43],[2.28,-1.35],[2.32,-1.4],[2.37,-1.38],[2.41,-1.44],[2.46,-1.37],[2.5,-1.42],[2.54,-1.36],[2.59,-1.52],[2.63,-1.43],[2.67,-1.55],[2.71,-1.38],[2.76,-1.46],[2.8,-1.52],[2.84,-1.35],[2.88,-1.58],[2.92,-1.48],[2.96,-1.52],[2.99,-1.38],[3.02,-1.66],[3.06,-1.42],[3.1,-1.58],[3.13,-1.52],[3.17,-1.64],[3.21,-1.47],[3.25,-1.56],[3.29,-1.7],[3.33,-1.44],[3.37,-1.62],[3.41,-1.72],[3.45,-1.5],[3.49,-1.41],[3.53,-1.62],[3.57,-1.74],[3.61,-1.56],[3.65,-1.46],[3.69,-1.68],[3.04,-1.52],[3.16,-1.39],[3.34,-1.6],[3.48,-1.78],[3.58,-1.52],[3.66,-1.72],[2.13,-1.45],[2.35,-1.47],[2.56,-1.58],[2.73,-1.6],[2.9,-1.66],[2.6,-1.42],
];

const yieldPts: [number, number][] = [
  [0.0202,-1.2],[0.0206,-1.15],[0.021,-1.27],[0.0214,-1.33],[0.0218,-1.19],[0.0222,-1.24],[0.0226,-1.4],[0.023,-1.17],[0.0234,-1.3],[0.0238,-1.22],[0.0242,-1.36],[0.0246,-1.16],[0.025,-1.26],[0.0254,-1.21],[0.0258,-1.32],[0.0262,-1.18],[0.0266,-1.43],[0.027,-1.25],[0.0274,-1.15],[0.0278,-1.29],[0.0282,-1.22],[0.0286,-1.37],[0.029,-1.17],[0.0294,-1.27],[0.0298,-1.2],[0.0302,-1.34],[0.0306,-1.16],[0.031,-1.24],[0.0314,-1.41],[0.0318,-1.19],[0.0322,-1.29],[0.0326,-1.23],[0.033,-1.35],[0.0334,-1.15],[0.0338,-1.26],[0.0342,-1.2],[0.0346,-1.31],[0.035,-1.38],[0.0354,-1.17],[0.0358,-1.25],[0.0362,-1.21],[0.0366,-1.33],[0.037,-1.16],[0.0374,-1.28],[0.0378,-1.42],[0.0382,-1.19],[0.0386,-1.3],[0.039,-1.23],[0.0394,-1.36],[0.0398,-1.18],[0.0402,-1.27],[0.0406,-1.21],[0.041,-1.33],[0.0414,-1.17],[0.0418,-1.25],[0.0422,-1.39],[0.0426,-1.2],[0.043,-1.29],[0.0434,-1.24],[0.0438,-1.35],[0.0442,-1.16],[0.0446,-1.27],[0.045,-1.22],[0.0454,-1.31],[0.0458,-1.18],[0.0462,-1.26],[0.0466,-1.42],[0.047,-1.21],[0.0474,-1.3],[0.0478,-1.17],[0.0482,-1.24],[0.0486,-1.36],[0.049,-1.2],[0.0494,-1.28],[0.0498,-1.23],
  [0.0204,-1.31],[0.0216,-1.26],[0.0228,-1.22],[0.024,-1.3],[0.0252,-1.18],[0.0264,-1.28],[0.0276,-1.21],[0.0288,-1.25],[0.03,-1.28],[0.0312,-1.2],[0.0324,-1.17],[0.0336,-1.31],[0.0348,-1.23],[0.036,-1.3],[0.0372,-1.2],[0.0384,-1.24],[0.0396,-1.28],[0.0408,-1.26],[0.042,-1.22],[0.0432,-1.3],[0.0444,-1.25],[0.0456,-1.23],[0.0468,-1.29],[0.048,-1.27],[0.0492,-1.33],
  [0.0201,-1.63],[0.0205,-1.5],[0.0209,-1.72],[0.0213,-1.57],[0.0217,-1.66],[0.0221,-1.47],[0.0225,-1.6],[0.0229,-1.76],[0.0233,-1.53],[0.0237,-1.68],[0.0241,-1.45],[0.0245,-1.62],[0.0249,-1.74],[0.0253,-1.55],[0.0257,-1.7],[0.0261,-1.49],[0.0265,-1.64],[0.0269,-1.78],[0.0273,-1.56],[0.0277,-1.67],[0.0281,-1.5],[0.0285,-1.73],[0.0289,-1.6],[0.0293,-1.46],[0.0297,-1.69],[0.0301,-1.58],[0.0305,-1.76],[0.0309,-1.52],[0.0313,-1.65],[0.0317,-1.48],[0.0321,-1.72],[0.0325,-1.6],[0.0329,-1.55],[0.0333,-1.68],[0.0337,-1.47],[0.0341,-1.62],[0.0345,-1.74],[0.0349,-1.53],[0.0353,-1.66],[0.0357,-1.58],[0.0361,-1.45],[0.0365,-1.61],[0.0369,-1.7],[0.0373,-1.51],[0.0377,-1.64],[0.0381,-1.77],[0.0385,-1.55],[0.0389,-1.68],[0.0393,-1.49],[0.0397,-1.6],[0.0401,-1.73],[0.0405,-1.57],[0.0409,-1.66],[0.0413,-1.48],[0.0417,-1.62],[0.0421,-1.75],[0.0425,-1.53],[0.0429,-1.67],[0.0433,-1.58],[0.0437,-1.46],[0.0441,-1.7],[0.0445,-1.6],[0.0449,-1.52],[0.0453,-1.65],[0.0457,-1.74],[0.0461,-1.55],[0.0465,-1.68],[0.0469,-1.79],[0.0473,-1.5],[0.0477,-1.62],[0.0481,-1.72],[0.0485,-1.57],[0.0489,-1.65],[0.0493,-1.76],[0.0497,-1.54],[0.05,-1.62],
  [0.020,-1.83],[0.0225,-1.93],[0.0223,-2.03],[0.0226,-2.08],[0.0237,-2.05],[0.0253,-2.0],[0.0257,-1.89],[0.0268,-1.98],[0.027,-1.9],[0.028,-2.08],[0.0295,-1.92],[0.0303,-1.88],[0.0315,-1.87],[0.0335,-1.85],[0.035,-1.91],[0.0352,-1.94],[0.0353,-2.12],[0.0375,-2.03],[0.0372,-1.87],[0.039,-1.89],[0.0398,-1.97],[0.0401,-1.91],[0.0405,-1.95],[0.041,-1.97],[0.0413,-1.91],[0.0425,-1.96],[0.0435,-2.17],[0.0433,-1.93],[0.0445,-1.88],[0.0475,-1.95],[0.0487,-2.03],[0.0493,-2.11],[0.0498,-1.84],[0.0465,-1.82],
];
const yieldMore: [number, number][] = [
  [0.0207,-1.23],[0.0331,-1.36],[0.0469,-1.15],[0.0248,-1.29],[0.0386,-1.19],[0.0281,-1.41],[0.0443,-1.26],[0.0219,-1.17],[0.0357,-1.31],[0.0496,-1.22],[0.0263,-1.37],[0.0412,-1.13],[0.0305,-1.24],[0.0478,-1.33],[0.0232,-1.28],[0.0369,-1.16],[0.0427,-1.3],[0.0291,-1.19],[0.0455,-1.39],[0.0244,-1.21],[0.0341,-1.27],[0.0488,-1.18],[0.0212,-1.35],[0.0397,-1.25],[0.0318,-1.14],[0.0461,-1.29],[0.0271,-1.23],[0.0376,-1.38],[0.0436,-1.2],[0.0228,-1.3],[0.0352,-1.22],[0.0499,-1.36],[0.0296,-1.33],[0.0418,-1.17],[0.0257,-1.18],[0.0364,-1.27],[0.0473,-1.24],[0.0236,-1.4],[0.0327,-1.2],[0.0449,-1.21],[0.0286,-1.26],[0.0403,-1.34],[0.0214,-1.26],[0.0344,-1.16],[0.0484,-1.31],[0.0267,-1.15],[0.0381,-1.3],[0.0431,-1.37],[0.0309,-1.32],[0.0458,-1.17],[0.0223,-1.2],[0.0392,-1.22],[0.0338,-1.4],[0.0491,-1.27],[0.0252,-1.25],[0.0419,-1.24],[0.0279,-1.34],[0.0467,-1.32],[0.0362,-1.2],[0.0313,-1.29],
  [0.0211,-1.47],[0.0298,-1.55],[0.0389,-1.48],[0.0476,-1.52],[0.0239,-1.56],[0.0327,-1.62],[0.0415,-1.45],[0.0494,-1.66],[0.0266,-1.58],[0.0355,-1.51],[0.0439,-1.6],[0.0203,-1.55],[0.0284,-1.69],[0.0371,-1.73],[0.0457,-1.49],[0.0232,-1.64],[0.0319,-1.46],[0.0406,-1.7],[0.0486,-1.57],[0.0346,-1.8],
];
const yieldMid: [number, number][] = [
  [0.0203,-1.42],[0.0224,-1.46],[0.0247,-1.37],[0.0269,-1.45],[0.0291,-1.41],[0.0313,-1.49],[0.0336,-1.36],[0.0358,-1.44],[0.0381,-1.39],[0.0404,-1.51],[0.0426,-1.45],[0.0448,-1.36],[0.0471,-1.5],[0.0493,-1.42],[0.0212,-1.47],[0.0235,-1.4],[0.0257,-1.55],[0.0279,-1.36],[0.0302,-1.52],[0.0325,-1.45],[0.0347,-1.38],[0.0369,-1.54],[0.0392,-1.43],[0.0414,-1.5],[0.0437,-1.43],[0.0459,-1.57],[0.0482,-1.4],[0.0218,-1.53],[0.0241,-1.45],[0.0263,-1.51],[0.0286,-1.37],[0.0308,-1.46],[0.033,-1.59],[0.0352,-1.41],[0.0375,-1.48],[0.0398,-1.44],[0.042,-1.39],[0.0443,-1.56],[0.0465,-1.46],[0.0488,-1.63],[0.0208,-1.54],[0.0231,-1.6],[0.0254,-1.64],[0.0276,-1.56],[0.0299,-1.46],[0.0321,-1.5],[0.0343,-1.62],[0.0366,-1.44],[0.0388,-1.57],[0.0411,-1.48],[0.0433,-1.65],[0.0456,-1.43],[0.0479,-1.62],[0.0498,-1.44],
];

const pointSets = [
  vhotdisk.concat(vhotdiskMore, vhotdiskMid),
  alphaReheat.concat(alphaReheatMore, alphaReheatMid),
  alphaCool.concat(alphaCoolMore, alphaCoolMid),
  vhotburst.concat(vhotburstMore, vhotburstMid),
  epsilonStar.concat(epsilonStarMore, epsilonStarMid),
  stabledisk.concat(stablediskMore, stablediskMid),
  alphahot.concat(alphahotMore, alphahotMid),
  yieldPts.concat(yieldMore, yieldMid),
];

const framePlugin = {
  id: "rframe",
  afterDraw(chart: any, _args: any, opts: any) {
    const { ctx, chartArea: a } = chart;
    ctx.save();
    ctx.strokeStyle = "#000";
    ctx.lineWidth = 1;
    const l = Math.round(a.left) + 0.5;
    const t = Math.round(a.top) + 0.5;
    const r = Math.round(a.right) + 0.5;
    const b = Math.round(a.bottom) + 0.5;
    ctx.strokeRect(l, t, r - l, b - t);
    ctx.fillStyle = "#000";
    ctx.font = "bold 17px " + FONT;
    ctx.textAlign = "center";
    ctx.textBaseline = "alphabetic";
    ctx.fillText(opts.title, (a.left + a.right) / 2, a.top - 2);
    const ys = chart.scales.y;
    ctx.font = "15px " + FONT;
    yTicks.forEach((v, i) => {
      const lab = yTickLabels[i];
      if (!lab) return;
      const py = ys.getPixelForValue(v);
      ctx.save();
      ctx.translate(a.left - 17, py);
      ctx.rotate(-Math.PI / 2);
      ctx.textAlign = "center";
      ctx.textBaseline = "middle";
      ctx.fillText(lab, 0, 0);
      ctx.restore();
    });
    ctx.restore();
  },
};

function Panel({ idx }: { idx: number }) {
  const ref = useRef<HTMLCanvasElement>(null);
  const col = idx % 4;
  const row = Math.floor(idx / 4);
  useEffect(() => {
    const xt = xTicksAll[idx];
    const xl = xLabelsAll[idx];
    const chart = new Chart(ref.current as HTMLCanvasElement, {
      type: "scatter",
      data: {
        datasets: [
          {
            data: pointSets[idx].map(([x, y]) => ({ x, y })),
            backgroundColor: "#000",
            borderWidth: 0,
            pointRadius: 2.3,
            pointHoverRadius: 2.3,
          },
        ],
      },
      options: {
        animation: false,
        responsive: false,
        events: [],
        layout: { padding: { top: 14, right: 11, left: 0, bottom: 0 } },
        plugins: {
          legend: { display: false },
          tooltip: { enabled: false },
          rframe: { title: titles[idx] },
        } as any,
        scales: {
          x: {
            type: "linear",
            min: xMins[idx],
            max: xMaxs[idx],
            afterBuildTicks: (s: any) => {
              s.ticks = xt.map((v) => ({ value: v }));
            },
            afterFit: (s: any) => {
              s.height = 40;
            },
            ticks: {
              autoSkip: false,
              maxRotation: 0,
              minRotation: 0,
              padding: 2,
              color: "#000",
              font: { size: 15, family: FONT },
              callback: (_v: any, i: number) => xl[i],
            },
            grid: { drawOnChartArea: false, drawTicks: true, tickLength: 7, color: "#000", lineWidth: 1 },
            border: { display: false },
          },
          y: {
            type: "linear",
            min: yMin,
            max: yMax,
            afterBuildTicks: (s: any) => {
              s.ticks = yTicks.map((v) => ({ value: v }));
            },
            afterFit: (s: any) => {
              s.width = 38;
            },
            ticks: { callback: () => "", padding: 0 },
            grid: { drawOnChartArea: false, drawTicks: true, tickLength: 7, color: "#000", lineWidth: 1 },
            border: { display: false },
          },
        },
      },
      plugins: [framePlugin],
    } as any);
    return () => chart.destroy();
  }, [idx]);
  return (
    <canvas
      ref={ref}
      width={250}
      height={246}
      style={{ position: "absolute", left: col * 250, top: row * 250, width: 250, height: 246 }}
    />
  );
}

export default function App() {
  return (
    <div style={{ position: "absolute", left: 0, top: 0, width: 1000, height: 492, overflow: "hidden", background: "#fff" }}>
      {titles.map((_t, i) => (
        <Panel key={i} idx={i} />
      ))}
    </div>
  );
}
